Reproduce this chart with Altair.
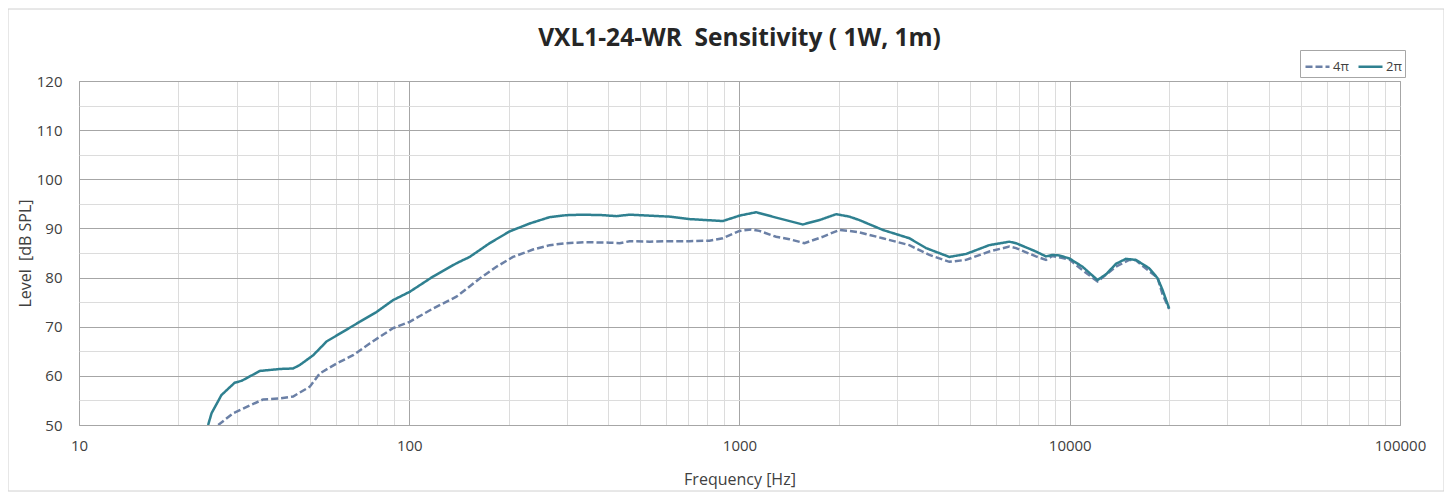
import altair as alt
import pandas as pd

# ---- data (frequency in Hz, level in dB SPL) ----
freq_2pi = [24.6, 25.2, 27.0, 29.6, 31.1, 35.3, 40.6, 44.5, 46.6, 51.2, 56.2, 63.1, 70.8,
            79.6, 89.3, 100.3, 118.0, 138.9, 152.4, 175.2, 201.4, 231.5, 266.2, 299.1,
            335.8, 385.9, 423.7, 464.8, 534.3, 614.1, 705.8, 890.2, 1000, 1123, 1291,
            1554, 1746, 1962, 2152, 2307, 2714, 3268, 3672, 4318, 4852, 5707, 6561,
            6874, 7902, 8472, 8850, 9300, 9965, 10935, 12134, 12900, 13797, 14792,
            15860, 17398, 18437, 19094, 20000]
level_2pi = [50.0, 52.4, 56.1, 58.6, 59.0, 61.0, 61.4, 61.5, 62.2, 64.2, 67.0, 69.0, 71.0,
             73.0, 75.4, 77.1, 80.2, 82.9, 84.2, 87.0, 89.4, 91.0, 92.3, 92.7,
             92.8, 92.7, 92.5, 92.8, 92.6, 92.4, 91.9, 91.5, 92.6, 93.3, 92.2,
             90.8, 91.7, 92.9, 92.4, 91.7, 89.7, 88.0, 86.0, 84.2, 84.8, 86.6, 87.3,
             87.0, 85.3, 84.3, 84.6, 84.5, 83.9, 82.2, 79.5, 80.7, 82.8, 83.8,
             83.6, 81.9, 79.9, 77.5, 73.7]

freq_4pi = [26.4, 29.3, 32.2, 36.1, 40.6, 44.5, 50.0, 53.6, 60.2, 67.6, 75.9, 89.3, 100.3,
            118.0, 138.9, 163.5, 183.6, 206.1, 236.9, 266.2, 299.1, 343.7, 404.3, 433.5,
            464.8, 534.3, 614.1, 705.8, 811.3, 890.2, 1000, 1085, 1149, 1291, 1417, 1573,
            1786, 2007, 2152, 2307, 2714, 3268, 3757, 4318, 4852, 5707, 6561, 6874,
            7902, 8472, 8851, 9965, 10935, 12134, 13797, 15136, 15860, 17398, 18437,
            19094, 20000]
level_4pi = [50.0, 52.4, 53.7, 55.2, 55.4, 55.8, 57.8, 60.5, 62.5, 64.2, 66.6, 69.7, 71.0,
             73.7, 76.1, 79.8, 82.2, 84.2, 85.7, 86.6, 87.0, 87.2, 87.1, 87.0,
             87.4, 87.3, 87.4, 87.4, 87.5, 88.0, 89.5, 89.8, 89.5, 88.3, 87.8, 87.0,
             88.3, 89.7, 89.5, 89.2, 88.0, 86.6, 84.6, 83.2, 83.6, 85.3, 86.3, 86.0,
             84.3, 83.6, 84.4, 83.7, 81.5, 79.2, 82.2, 83.6, 83.5, 81.3, 80.0,
             76.6, 73.6]

series_names = ["4π", "2π"]
series_colors = ["#6B80A6", "#2F8090"]
series_dash = [[7, 3], [1, 0]]

x_major = [10, 100, 1000, 10000, 100000]
x_ticks = [d * k for d in [10, 100, 1000, 10000] for k in range(1, 10)] + [100000]
y_ticks = list(range(50, 125, 5))

df = pd.concat([
    pd.DataFrame({"freq": freq_4pi, "level": level_4pi, "series": series_names[0]}),
    pd.DataFrame({"freq": freq_2pi, "level": level_2pi, "series": series_names[1]}),
])

FONT = "Open Sans"
TXT = "#404040"

major_list = "[" + ",".join(str(v) for v in x_major) + "]"

x_axis = alt.Axis(
    values=x_ticks, title="Frequency [Hz]", ticks=False, domain=False,
    labelExpr=f"indexof({major_list}, datum.value) >= 0 ? format(datum.value, 'd') : ''",
    labelFlush=False, labelOverlap=False, labelFont=FONT, labelFontSize=15,
    labelColor=TXT, labelPadding=13, titleFont=FONT, titleFontSize=16,
    titleFontWeight="normal", titleColor=TXT, titlePadding=18,
    gridColor={"condition": {"test": f"indexof({major_list}, datum.value) >= 0",
                             "value": "#A6A6A6"}, "value": "#DCDCDC"},
)
y_axis = alt.Axis(
    values=y_ticks, title="Level\u00a0 [dB SPL]", ticks=False, domain=False,
    labelExpr="datum.value % 10 === 0 ? datum.label : ''",
    labelOverlap=False, labelFont=FONT, labelFontSize=15, labelColor=TXT,
    labelPadding=17, titleFont=FONT, titleFontSize=16, titleFontWeight="normal",
    titleColor=TXT, titlePadding=3,
    gridColor={"condition": {"test": "datum.value % 10 === 0", "value": "#A6A6A6"},
               "value": "#DCDCDC"},
)

lines = alt.Chart(df).mark_line(strokeWidth=2.5, clip=True).encode(
    x=alt.X("freq:Q", scale=alt.Scale(type="log", domain=[10, 100000], nice=False), axis=x_axis),
    y=alt.Y("level:Q", scale=alt.Scale(domain=[50, 120], nice=False, zero=False), axis=y_axis),
    color=alt.Color("series:N", scale=alt.Scale(domain=series_names, range=series_colors),
                    legend=alt.Legend(title=None, orient="none", legendX=1221, legendY=-31,
                                      direction="horizontal", symbolType="stroke",
                                      symbolSize=576, symbolStrokeWidth=2.5,
                                      labelFont=FONT, labelFontSize=13, labelColor=TXT,
                                      labelOffset=2, columnPadding=4, padding=3,
                                      rowPadding=0, symbolOffset=1,
                                      strokeColor="#A6A6A6")),
    strokeDash=alt.StrokeDash("series:N", scale=alt.Scale(domain=series_names, range=series_dash),
                              legend=None),
    order=alt.Order("freq:Q"),
)

frame = alt.Chart(alt.Data(values=[{}])).mark_rect(
    fill=None, stroke="#D0D0D0", strokeWidth=1, clip=False
).encode(x=alt.value(-71), x2=alt.value(1365), y=alt.value(-72), y2=alt.value(410))

chart = alt.layer(frame, lines).properties(
    width=1321, height=344,
    title=alt.TitleParams(text="VXL1-24-WR\u00a0 Sensitivity ( 1W, 1m)", font=FONT, fontSize=24.5,
                          fontWeight="bold", color="#262626", anchor="middle",
                          frame="group", baseline="alphabetic", offset=-62),
    autosize=alt.AutoSizeParams(type="none"),
    padding={"left": 71, "top": 73, "right": 44, "bottom": 67},
).configure_view(stroke="#A6A6A6", strokeWidth=1)

chart.save("out.html", embed_options={"renderer": "svg", "actions": False})
